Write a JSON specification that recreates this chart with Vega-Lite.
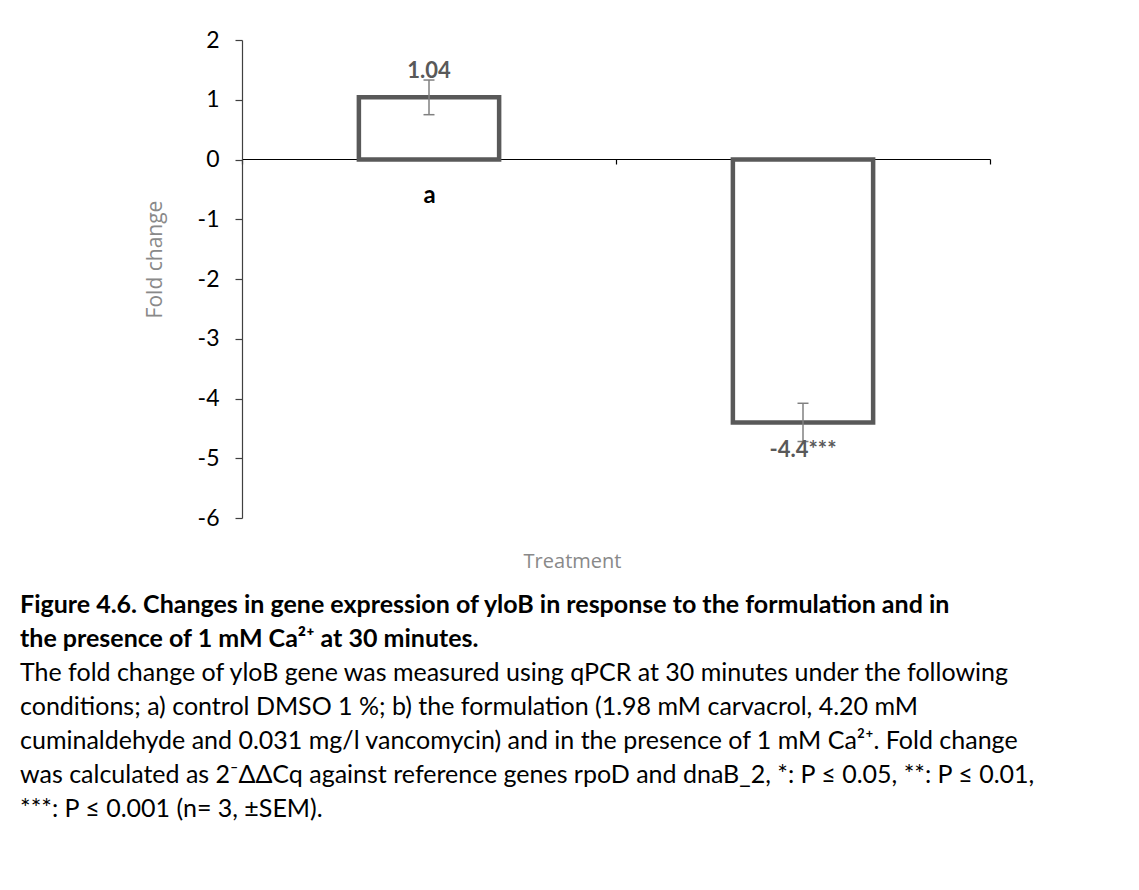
{
  "$schema": "https://vega.github.io/schema/vega-lite/v6.json",
  "autosize": "none",
  "width": 748,
  "height": 478,
  "padding": {"left": 242, "top": 40, "right": 149, "bottom": 372},
  "background": "white",
  "config": {"view": {"stroke": null}},
  "title": {
    "text": ["Figure 4.6. Changes in gene expression of yloB in response to the formulation and in", "the presence of 1 mM Ca²⁺ at 30 minutes."],
    "subtitle": ["The fold change of yloB gene was measured using qPCR at 30 minutes under the following", "conditions; a) control DMSO 1 %; b) the formulation (1.98 mM carvacrol, 4.20 mM", "cuminaldehyde and 0.031 mg/l vancomycin) and in the presence of 1 mM Ca²⁺. Fold change", "was calculated as 2⁻ΔΔCq against reference genes rpoD and dnaB_2, *: P ≤ 0.05, **: P ≤ 0.01,", "***: P ≤ 0.001 (n= 3, ±SEM)."],
    "orient": "bottom",
    "anchor": "start",
    "frame": "group",
    "dx": -222,
    "offset": 22,
    "font": "Lato",
    "fontSize": 25,
    "fontWeight": "bold",
    "color": "black",
    "lineHeight": 34,
    "subtitleFont": "Lato",
    "subtitleFontSize": 25,
    "subtitleFontWeight": "normal",
    "subtitleColor": "black",
    "subtitleLineHeight": 34,
    "subtitlePadding": 9
  },
  "data": {
    "values": [
      {"treatment": "a", "value": 1.04, "lo": 0.75, "hi": 1.33, "label": "1.04"},
      {"treatment": "b", "value": -4.4, "lo": -4.72, "hi": -4.08, "label": "-4.4***"}
    ]
  },
  "layer": [
    {
      "mark": {"type": "bar", "fill": "white", "stroke": "#595959", "strokeWidth": 4.5, "width": {"band": 0.375}},
      "encoding": {
        "x": {
          "field": "treatment", "type": "nominal",
          "scale": {"paddingInner": 0, "paddingOuter": 0},
          "axis": {
            "orient": "bottom", "offset": -359,
            "domainColor": "black", "domainWidth": 1.2,
            "tickColor": "black", "tickSize": 5, "tickBand": "extent", "tickWidth": 1.2,
            "labelAngle": 0, "labelFont": "Lato", "labelFontSize": 24, "labelFontWeight": "bold",
            "labelColor": "black", "labelPadding": 38, "labelBaseline": "alphabetic",
            "title": "Treatment", "titleX": 330, "titleY": 402, "titleBaseline": "middle",
            "titleFont": "Open Sans", "titleFontSize": 20, "titleFontWeight": "normal", "titleColor": "#898989"
          }
        },
        "y": {
          "field": "value", "type": "quantitative",
          "scale": {"domain": [-6, 2], "nice": false},
          "axis": {
            "values": [-6, -5, -4, -3, -2, -1, 0, 1, 2], "grid": false,
            "labelExpr": "'' + datum.value", "labelAngle": 0,
            "domainColor": "#404040", "domainWidth": 1.2,
            "tickColor": "#404040", "tickSize": 7, "tickWidth": 1.2,
            "labelFont": "Lato", "labelFontSize": 23, "labelColor": "black", "labelPadding": 16,
            "title": "Fold change", "titleX": -87, "titleY": 219, "titleBaseline": "middle", "titleAlign": "center",
            "titleFont": "Open Sans", "titleFontSize": 21, "titleFontWeight": "normal", "titleColor": "#898989"
          }
        }
      }
    },
    {
      "mark": {"type": "rule", "color": "#808080", "strokeWidth": 1.5},
      "encoding": {
        "x": {"field": "treatment", "type": "nominal"},
        "y": {"field": "lo", "type": "quantitative"},
        "y2": {"field": "hi"}
      }
    },
    {
      "mark": {"type": "point", "shape": "M-1,0L1,0", "size": 121, "filled": false, "stroke": "#808080", "strokeWidth": 1.5, "opacity": 1},
      "encoding": {
        "x": {"field": "treatment", "type": "nominal"},
        "y": {"field": "lo", "type": "quantitative"}
      }
    },
    {
      "mark": {"type": "point", "shape": "M-1,0L1,0", "size": 121, "filled": false, "stroke": "#808080", "strokeWidth": 1.5, "opacity": 1},
      "encoding": {
        "x": {"field": "treatment", "type": "nominal"},
        "y": {"field": "hi", "type": "quantitative"}
      }
    },
    {
      "transform": [{"filter": "datum.value > 0"}],
      "mark": {"type": "text", "font": "Lato", "fontSize": 22, "fontWeight": "bold", "color": "#595959", "baseline": "alphabetic", "dy": -19},
      "encoding": {
        "x": {"field": "treatment", "type": "nominal"},
        "y": {"field": "value", "type": "quantitative"},
        "text": {"field": "label"}
      }
    },
    {
      "transform": [{"filter": "datum.value < 0"}],
      "mark": {"type": "text", "font": "Lato", "fontSize": 22, "fontWeight": "bold", "color": "#595959", "baseline": "alphabetic", "dy": 35},
      "encoding": {
        "x": {"field": "treatment", "type": "nominal"},
        "y": {"field": "value", "type": "quantitative"},
        "text": {"field": "label"}
      }
    }
  ]
}
